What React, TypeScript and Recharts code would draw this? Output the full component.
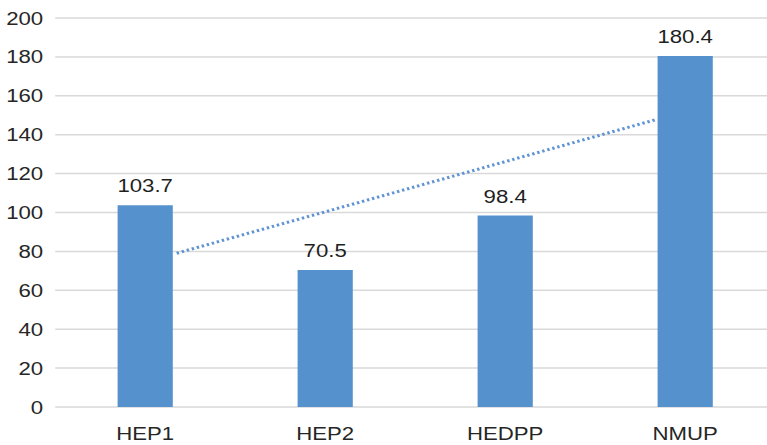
import React from "react";
import {
  BarChart,
  Bar,
  XAxis,
  YAxis,
  CartesianGrid,
  LabelList,
  ReferenceLine,
} from "recharts";

// Categories and values
const categories: string[] = ["HEP1", "HEP2", "HEDPP", "NMUP"];
const values: number[] = [103.7, 70.5, 98.4, 180.4];
const yTicks: number[] = [0, 20, 40, 60, 80, 100, 120, 140, 160, 180, 200];

// Visible span of the linear trendline, in category positions (1 = first bar)
const trendSpan: number[] = [1.175, 3.84];

const data = categories.map((name, i) => ({ name, value: values[i], pos: i + 1 }));

// Least-squares linear fit over the bar values (x = 1..n)
function linearFit(ys: number[]) {
  const n = ys.length;
  const xs = ys.map((_, i) => i + 1);
  const mx = xs.reduce((a, b) => a + b, 0) / n;
  const my = ys.reduce((a, b) => a + b, 0) / n;
  let num = 0;
  let den = 0;
  for (let i = 0; i < n; i++) {
    num += (xs[i] - mx) * (ys[i] - my);
    den += (xs[i] - mx) * (xs[i] - mx);
  }
  const slope = num / den;
  return (x: number) => my + slope * (x - mx);
}

const trend = linearFit(values);
const trendSegment = trendSpan.map((x) => ({ x, y: trend(x) }));

const FONT = "'Liberation Sans', Arial, Helvetica, sans-serif";
const STRETCH = 1.2;
const CHART_W = 660;
const CHART_H = 445;

export default function App() {
  return (
    <div
      style={{
        position: "absolute",
        left: 0,
        top: 0,
        width: 767,
        height: 445,
        overflow: "hidden",
        background: "#ffffff",
      }}
    >
      <div
        style={{
          width: CHART_W,
          height: CHART_H,
          transform: `scaleX(${STRETCH})`,
          transformOrigin: "0 0",
        }}
      >
        <BarChart
          width={CHART_W}
          height={CHART_H}
          data={data}
          margin={{ top: 18, right: 14, bottom: 0, left: 0 }}
          barSize={46}
        >
          <CartesianGrid vertical={false} stroke="#d9d9d9" strokeWidth={1.5} />
          <XAxis
            dataKey="name"
            axisLine={false}
            tickLine={false}
            tickSize={0}
            tickMargin={20}
            height={38}
            interval={0}
            tick={{ fill: "#262626", fontSize: 18.5, fontFamily: FONT }}
          />
          <XAxis
            xAxisId="trend"
            dataKey="pos"
            type="number"
            domain={[0.5, 4.5]}
            allowDataOverflow
            hide
          />
          <YAxis
            domain={[0, 200]}
            ticks={yTicks}
            axisLine={false}
            tickLine={false}
            tickSize={0}
            tickMargin={10}
            width={46}
            interval={0}
            tick={{ fill: "#262626", fontSize: 18.5, fontFamily: FONT }}
          />
          <Bar dataKey="value" fill="#5592cd" isAnimationActive={false}>
            <LabelList
              dataKey="value"
              position="top"
              offset={13}
              fill="#1f1f1f"
              fontSize={18.5}
              fontFamily={FONT}
            />
          </Bar>
          <ReferenceLine
            xAxisId="trend"
            segment={trendSegment}
            ifOverflow="visible"
            stroke="#5f93d3"
            strokeWidth={3}
            strokeDasharray="2 2.4"
          />
        </BarChart>
      </div>
    </div>
  );
}
